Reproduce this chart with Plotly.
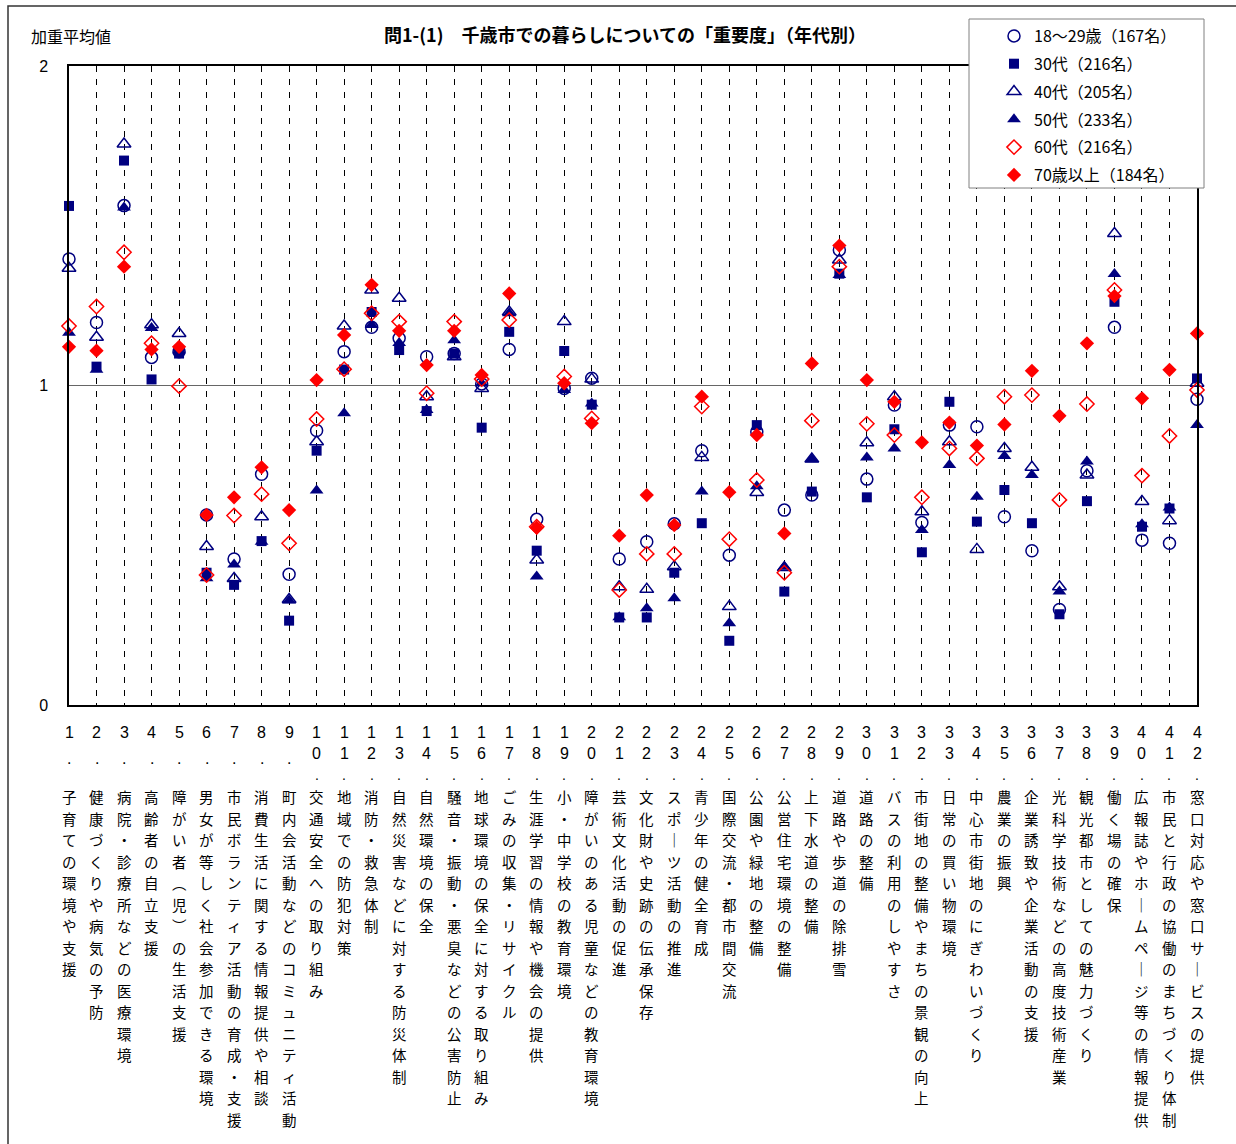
import plotly.graph_objects as go

# ---- data -------------------------------------------------------------
items = [
    "子育ての環境や支援",
    "健康づくりや病気の予防",
    "病院・診療所などの医療環境",
    "高齢者の自立支援",
    "障がい者︵児︶の生活支援",
    "男女が等しく社会参加できる環境",
    "市民ボランティア活動の育成・支援",
    "消費生活に関する情報提供や相談",
    "町内会活動などのコミュニティ活動",
    "交通安全への取り組み",
    "地域での防犯対策",
    "消防・救急体制",
    "自然災害などに対する防災体制",
    "自然環境の保全",
    "騒音・振動・悪臭などの公害防止",
    "地球環境の保全に対する取り組み",
    "ごみの収集・リサイクル",
    "生涯学習の情報や機会の提供",
    "小・中学校の教育環境",
    "障がいのある児童などの教育環境",
    "芸術文化活動の促進",
    "文化財や史跡の伝承保存",
    "スポ｜ツ活動の推進",
    "青少年の健全育成",
    "国際交流・都市間交流",
    "公園や緑地の整備",
    "公営住宅環境の整備",
    "上下水道の整備",
    "道路や歩道の除排雪",
    "道路の整備",
    "バスの利用のしやすさ",
    "市街地の整備やまちの景観の向上",
    "日常の買い物環境",
    "中心市街地のにぎわいづくり",
    "農業の振興",
    "企業誘致や企業活動の支援",
    "光科学技術などの高度技術産業",
    "観光都市としての魅力づくり",
    "働く場の確保",
    "広報誌やホ｜ムペ｜ジ等の情報提供",
    "市民と行政の協働のまちづくり体制",
    "窓口対応や窓口サ｜ビスの提供",
]

age_18_29 = [1.396, 1.197, 1.563, 1.088, 1.106, 0.595, 0.457, 0.722, 0.409, 0.859,
             1.106, 1.182, 1.148, 1.090, 1.100, 1.005, 1.113, 0.581, 0.991, 1.023,
             0.457, 0.511, 0.567, 0.796, 0.469, 0.855, 0.610, 0.657, 1.424, 0.707,
             0.939, 0.571, 0.876, 0.871, 0.589, 0.483, 0.299, 0.733, 1.182, 0.516,
             0.506, 0.957]
age_30s = [1.562, 1.059, 1.704, 1.019, 1.100, 0.414, 0.376, 0.513, 0.264, 0.796,
           1.050, 1.230, 1.111, 0.920, 1.100, 0.868, 1.168, 0.483, 1.108, 0.940,
           0.274, 0.274, 0.414, 0.569, 0.201, 0.876, 0.355, 0.668, 1.350, 0.650,
           0.863, 0.478, 0.949, 0.574, 0.673, 0.569, 0.284, 0.638, 1.262, 0.558,
           0.615, 1.022]
age_40s = [1.367, 1.151, 1.756, 1.190, 1.163, 0.496, 0.396, 0.589, 0.330, 0.824,
           1.186, 1.299, 1.273, 0.965, 1.090, 0.991, 1.230, 0.454, 1.200, 1.020,
           0.370, 0.362, 0.433, 0.775, 0.308, 0.665, 0.430, 0.770, 1.393, 0.821,
           0.965, 0.605, 0.824, 0.487, 0.803, 0.744, 0.370, 0.720, 1.476, 0.637,
           0.577, 1.007]
age_50s = [1.165, 1.049, 1.557, 1.180, 1.110, 0.397, 0.440, 0.511, 0.327, 0.671,
           0.913, 1.189, 1.133, 0.923, 1.142, 1.007, 1.226, 0.402, 0.986, 0.944,
           0.275, 0.303, 0.334, 0.668, 0.256, 0.685, 0.433, 0.769, 1.346, 0.775,
           0.803, 0.548, 0.751, 0.652, 0.779, 0.720, 0.355, 0.762, 1.349, 0.566,
           0.618, 0.876]
age_60s = [1.186, 1.247, 1.417, 1.132, 0.998, 0.407, 0.593, 0.660, 0.506, 0.895,
           1.051, 1.226, 1.200, 0.976, 1.200, 1.020, 1.205, 0.558, 1.028, 0.897,
           0.360, 0.473, 0.473, 0.934, 0.519, 0.704, 0.414, 0.890, 1.372, 0.880,
           0.845, 0.650, 0.803, 0.772, 0.965, 0.970, 0.642, 0.942, 1.299, 0.718,
           0.842, 0.986]
age_70_plus = [1.121, 1.109, 1.372, 1.113, 1.121, 0.595, 0.650, 0.744, 0.610, 1.017,
               1.158, 1.315, 1.171, 1.064, 1.171, 1.033, 1.288, 0.555, 1.007, 0.882,
               0.530, 0.657, 0.563, 0.965, 0.666, 0.845, 0.537, 1.069, 1.438, 1.017,
               0.949, 0.822, 0.884, 0.812, 0.878, 1.046, 0.905, 1.132, 1.280, 0.960,
               1.049, 1.163]

series_names = ["18～29歳（167名）", "30代（216名）", "40代（205名）",
                "50代（233名）", "60代（216名）", "70歳以上（184名）"]

NAVY = "#000080"
RED = "#FF0000"
JP = "Noto Sans CJK JP"

# ---- figure geometry (pixels) ------------------------------------------
W, H = 1236, 1144
L, R, T, B = 69, 1197, 66, 705
PW, PH = R - L, B - T
ROW0, ROW_STEP = 732, 21.5   # vertical text: first row centre and row pitch


def px_x(x):
    return (x - L) / PW


def px_y(y):
    return (B - y) / PH


cats = list(range(1, len(items) + 1))

styles = [
    (age_18_29, dict(symbol="circle-open", size=12, color=NAVY, line=dict(width=1.5, color=NAVY))),
    (age_30s, dict(symbol="square", size=10, color=NAVY, line=dict(width=0))),
    (age_40s, dict(symbol="triangle-up-open", size=12, color=NAVY, line=dict(width=1.5, color=NAVY))),
    (age_50s, dict(symbol="triangle-up", size=12, color=NAVY, line=dict(width=0))),
    (age_60s, dict(symbol="diamond-open", size=11, color=RED, line=dict(width=1.5, color=RED))),
    (age_70_plus, dict(symbol="diamond", size=11, color=RED, line=dict(width=0))),
]

fig = go.Figure()
for i, (vals, mk) in enumerate(styles):
    fig.add_trace(go.Scatter(
        x=cats, y=vals, mode="markers", name=series_names[i],
        marker=mk, cliponaxis=False, legendgroup=f"g{i}",
    ))

# ---- vertical category labels: one glyph per row --------------------------
annotations = []
for n, text in zip(cats, items):
    cells = [(ch, "Liberation Sans", 16, 0) for ch in str(n)]
    if n < 10:
        cells.append((".", "Liberation Sans", 16, 5))
        cells.append(("", None, None, 0))       # blank row keeps texts aligned
    else:
        cells.append((".", "Liberation Sans", 14, 0))
    cells += [(ch, JP, 14.5, 0) for ch in text]
    for k, (ch, fam, size, shift) in enumerate(cells):
        if not ch:
            continue
        yc = ROW0 + ROW_STEP * k + shift
        annotations.append(dict(
            x=n, xref="x", y=px_y(yc), yref="paper",
            xanchor="center", yanchor="middle", showarrow=False,
            text=ch, font=dict(family=fam, size=size, color="black"),
        ))

annotations.append(dict(
    x=px_x(625), y=px_y(34), xref="paper", yref="paper",
    xanchor="center", yanchor="middle", showarrow=False,
    text="<b>問1-(1)　千歳市での暮らしについての「重要度」（年代別）</b>",
    font=dict(family=JP, size=18, color="black"),
))
annotations.append(dict(
    x=px_x(29), y=px_y(36), xref="paper", yref="paper",
    xanchor="left", yanchor="middle", showarrow=False,
    text="加重平均値",
    font=dict(family=JP, size=16, color="black"),
))

shapes = [
    # outer frame of the chart
    dict(type="rect", xref="paper", yref="paper",
         x0=px_x(8), x1=px_x(1260), y0=px_y(6), y1=px_y(1170),
         line=dict(color="#333333", width=1.5), fillcolor="rgba(0,0,0,0)", layer="below"),
    # legend box
    dict(type="rect", xref="paper", yref="paper",
         x0=px_x(969), x1=px_x(1204), y0=px_y(19), y1=px_y(188),
         line=dict(color="#808080", width=1), fillcolor="white", layer="above"),
]

fig.update_layout(
    width=W, height=H,
    margin=dict(l=L, r=W - R, t=T, b=H - B),
    paper_bgcolor="white", plot_bgcolor="white",
    font=dict(family=JP, color="black"),
    showlegend=True,
    legend=dict(
        x=px_x(994), y=px_y(19), xanchor="left", yanchor="top",
        bgcolor="rgba(0,0,0,0)", borderwidth=0,
        font=dict(family=JP, size=16, color="black"),
        tracegroupgap=4, traceorder="grouped",
    ),
    xaxis=dict(
        range=[1, len(items)], showticklabels=False, ticks="",
        showgrid=True, tick0=1, dtick=1, gridcolor="black", gridwidth=1,
        griddash="6px,7px", zeroline=False,
        showline=True, mirror=True, linecolor="black", linewidth=1.5,
    ),
    yaxis=dict(
        range=[0, 2], tickvals=[0, 1, 2], ticktext=["0", "1", "2"], ticks="",
        ticklabelstandoff=16,
        tickfont=dict(family="Liberation Sans", size=16, color="black"),
        showgrid=True, gridcolor="#666666", gridwidth=1, zeroline=False,
        showline=True, mirror=True, linecolor="black", linewidth=1.5,
    ),
    annotations=annotations,
    shapes=shapes,
)

fig.write_html("out.html")
